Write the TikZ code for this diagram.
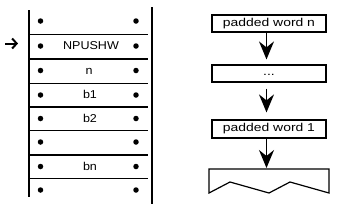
\documentclass[tikz,border=0pt]{standalone}
\usepackage{fontspec}
\setmainfont{Liberation Sans}
\newfontfamily\stackfont[FakeStretch=1.1]{Liberation Sans}
\newfontfamily\wordfont[FakeStretch=1.22]{Liberation Sans}
\usetikzlibrary{arrows.meta}
\begin{document}
\begin{tikzpicture}[x=1pt,y=-1pt,line width=1.2pt,
  rowtext/.style={font=\stackfont\fontsize{11.4}{13}\selectfont,inner sep=0pt,anchor=base},
  bullet/.style={circle,fill,inner sep=0pt,minimum width=4.8pt,minimum height=5.5pt},
  rule/.style={line width=1.2pt},
  wordbox/.style={draw,line width=1.2pt,minimum width=114pt,minimum height=17pt,inner sep=0pt,
    font=\wordfont\fontsize{11.4}{13}\selectfont},
  flow/.style={-{Stealth[length=18pt,width=15pt,inset=6pt]},line width=1.5pt},
  pointer/.style={-{Straight Barb[length=4.5pt,width=10pt]},line width=2pt}
]
\useasboundingbox (0,0) rectangle (341,210);

% stack frame
\draw[rule] (29,10) -- (29,197);
\draw[rule] (152,7) -- (152,204);
\foreach \y in {34.5,59,83.5,107,130.5,155,178.5}
  \draw[rule] (29,\y) -- (148,\y);

% bullets
\foreach \y [count=\i] in {21,46,70.5,95,118.5,142,166.5,190}{
  \node[bullet] (dl\i) at (40.5,\y) {};
  \node[bullet] (dr\i) at (136,\y) {};
}

% row texts
\node[rowtext] (r2) at (91,49.5) {NPUSHW};
\node[rowtext] (r3) at (89,74) {n};
\node[rowtext] (r4) at (90,98.5) {b1};
\node[rowtext] (r5) at (90,122.5) {b2};
\node[rowtext] (r7) at (90,170.5) {bn};

% pointer arrow
\coordinate (pa) at (5,43.5);
\coordinate (pb) at (18,43.5);
\draw[pointer] (pa) -- (pb);

% right column
\node[wordbox] (w1) at (269,23.5) {padded word n};
\node[wordbox] (w2) at (269,73.5) {\raisebox{-3pt}{...}};
\node[wordbox,minimum height=18pt] (w3) at (269,129) {padded word 1};

\coordinate (top) at (269,169);
\draw (209,193) -- (209,169) -- (329,169) -- (329,193) -- (290,182) -- (269,193) -- (230,182) -- cycle;

\draw[flow] ([xshift=-2.5pt]w1.south) -- ([xshift=-2.5pt,yshift=5pt]w2.north);
\draw[flow] ([xshift=-2.5pt,yshift=-6pt]w2.south) -- ([xshift=-2.5pt,yshift=7pt]w3.north);
\draw[flow] ([xshift=-2.5pt]w3.south) -- ([xshift=-2.5pt,yshift=1pt]top);
\end{tikzpicture}
\end{document}
